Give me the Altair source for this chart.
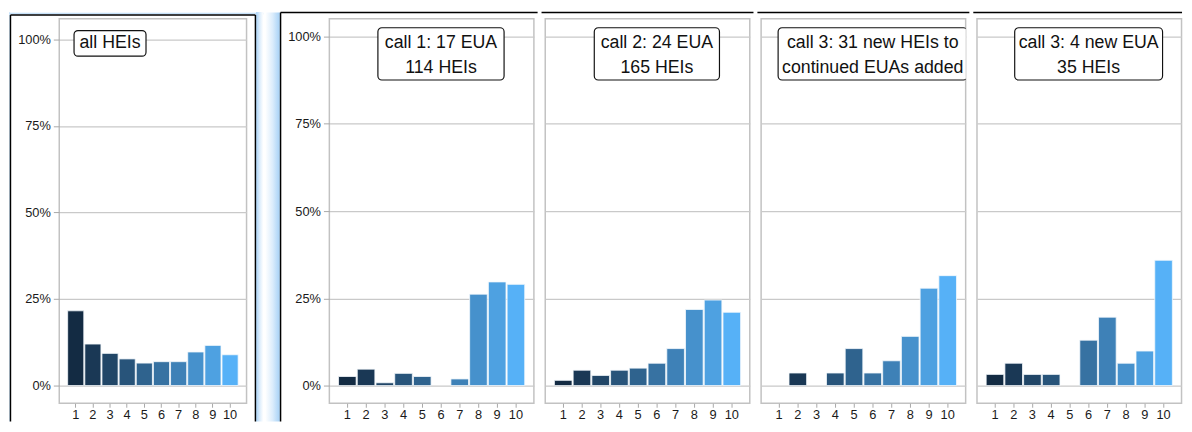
import altair as alt
import pandas as pd

# ---------------- data ----------------
categories = [1, 2, 3, 4, 5, 6, 7, 8, 9, 10]
share_all_heis = [21.6, 12.0, 9.3, 7.7, 6.5, 6.9, 6.9, 9.7, 11.6, 8.9]
share_call1 = [2.6, 4.7, 0.8, 3.5, 2.6, 0.0, 1.9, 26.2, 29.7, 29.0]
share_call2 = [1.5, 4.4, 2.9, 4.4, 5.0, 6.4, 10.6, 21.8, 24.5, 21.0]
share_call3_new_heis = [0.0, 3.6, 0.0, 3.6, 10.6, 3.6, 7.1, 14.1, 27.9, 31.5]
share_call3_new_eua = [3.2, 6.4, 3.2, 3.2, 0.0, 13.0, 19.6, 6.4, 9.9, 35.9]

panel_labels = [
    "all HEIs",
    "call 1: 17 EUA\n114 HEIs",
    "call 2: 24 EUA\n165 HEIs",
    "call 3: 31 new HEIs to\ncontinued EUAs added",
    "call 3: 4 new EUA\n35 HEIs",
]
label_category = [3, 6, 6, 6, 6]
label_level = [0.989, 0.9505, 0.9505, 0.9505, 0.9505]
y_tick_values = [0, 0.25, 0.5, 0.75, 1.0]

# ---------------- style ----------------
FONT = "Liberation Sans"
GRID = "#c9c9c9"
FRAME = "#c2c2c2"
GLOW = "#a6d1f6"
W = 207.5
H = 390
HALF_GAP = 3.75
BOTTOM = 408.5

one = pd.DataFrame({"k": [0]})


def rule(x, x2, y, y2, color="black", sw=1.5):
    return alt.Chart(one).mark_rule(color=color, strokeWidth=sw).encode(
        x=alt.value(x), x2=alt.value(x2), y=alt.value(y), y2=alt.value(y2)
    )


def glow_rect(x, x2, y, y2, horizontal=True, reverse=False):
    stops = [
        alt.GradientStop(color="#ffffff", offset=0),
        alt.GradientStop(color="#dcedfc", offset=0.5),
        alt.GradientStop(color=GLOW, offset=1),
    ]
    if horizontal:
        g = alt.LinearGradient(gradient="linear", stops=stops,
                               x1=1 if reverse else 0, x2=0 if reverse else 1, y1=0, y2=0)
    else:
        g = alt.LinearGradient(gradient="linear", stops=stops,
                               x1=0, x2=0, y1=1 if reverse else 0, y2=0 if reverse else 1)
    return alt.Chart(one).mark_rect(fill=g).encode(
        x=alt.value(x), x2=alt.value(x2), y=alt.value(y), y2=alt.value(y2)
    )


def panel(values, idx, width, domain, show_y, box_w, box_h, text_dy, decorations):
    df = pd.DataFrame({"cat": categories, "share": [v / 100 for v in values]})
    xscale = alt.Scale(domain=categories, paddingInner=0.06, paddingOuter=0.49)
    xenc = alt.X(
        "cat:O",
        title=None,
        scale=xscale,
        axis=alt.Axis(labelAngle=0, labelFont=FONT, labelFontSize=13, labelColor="#1a1a1a",
                      tickColor="#a8a8a8", tickSize=4, tickWidth=1, labelPadding=1.5,
                      domain=False, grid=False),
    )
    if show_y:
        yaxis = alt.Axis(values=y_tick_values, format="%", grid=True, gridColor=GRID, gridWidth=1.2,
                         domain=False, tickColor="#a8a8a8", tickSize=6, tickWidth=1,
                         labelPadding=3, labelFont=FONT, labelFontSize=13, labelColor="#1a1a1a")
    else:
        yaxis = alt.Axis(values=y_tick_values, grid=True, gridColor=GRID, gridWidth=1.2,
                         domain=False, ticks=False, labels=False)
    yenc = alt.Y("share:Q", title=None,
                 scale=alt.Scale(domain=domain, nice=False, zero=False), axis=yaxis)

    bars = alt.Chart(df).transform_filter("datum.share > 0").mark_bar(
        stroke="#f4f8fc", strokeWidth=0.8
    ).encode(
        x=xenc,
        y=yenc,
        y2=alt.datum(0),
        color=alt.Color("cat:Q", legend=None,
                        scale=alt.Scale(domain=[1, 10], range=["#132B43", "#56B1F7"],
                                        interpolate="lab")),
    )

    lab = pd.DataFrame({"cat": [label_category[idx]], "share": [label_level[idx]],
                        "text": [panel_labels[idx]]})
    box = alt.Chart(lab).mark_rect(
        width=box_w, height=box_h, cornerRadius=4, fill="white", stroke="#111111",
        strokeWidth=1.2, clip=True
    ).encode(x=alt.X("cat:O", scale=xscale), y="share:Q")
    txt = alt.Chart(lab).mark_text(
        font=FONT, fontSize=18, color="#111111", lineBreak="\n", lineHeight=25,
        align="center", baseline="middle", dy=text_dy, clip=True
    ).encode(x=alt.X("cat:O", scale=xscale), y="share:Q", text="text:N")

    return alt.layer(*decorations, bars, box, txt).properties(width=width, height=H)


# panel 1 decorations (left framed box)
d1 = [
    glow_rect(-51, 207, -7, -4.75, horizontal=False),
    glow_rect(-51, -50.25, -7, BOTTOM),
    glow_rect(199.75, 207, -7, BOTTOM, reverse=True),
    rule(-49.5, -49.5, -4, BOTTOM),
    rule(-49.5, 199, -4, -4),
    rule(199, 199, -4, BOTTOM),
]
d2 = [
    glow_rect(-65, -50.25, -6.5, BOTTOM),
    rule(-49.5, -49.5, -6.5, BOTTOM),
    rule(-49.5, W + HALF_GAP, -6.5, -6.5),
]
d3 = [rule(-HALF_GAP, W + HALF_GAP, -6.5, -6.5)]
d4 = [rule(-HALF_GAP, W + HALF_GAP, -6.5, -6.5)]
d5 = [rule(-HALF_GAP, W + 0.5, -6.5, -6.5)]

dom1 = [-0.0513, 1.0598]
dom2 = [-0.0508, 1.0508]

p1 = panel(share_all_heis, 0, 190, dom1, True, 73, 26, 0, d1)
p2 = panel(share_call1, 1, W, dom2, True, 128, 53, -10.5, d2)
p3 = panel(share_call2, 2, W, dom2, False, 127, 53, -10.5, d3)
p4 = panel(share_call3_new_heis, 3, W, dom2, False, 192, 53, -10.5, d4)
p5 = panel(share_call3_new_eua, 4, W, dom2, False, 150, 53, -10.5, d5)

chart = alt.hconcat(p1, p2, p3, p4, p5, spacing=0).properties(
    padding=0, background="white"
).configure_view(stroke=FRAME, strokeWidth=1.5)

chart.save("out.html", embed_options={"renderer": "svg", "actions": False})
